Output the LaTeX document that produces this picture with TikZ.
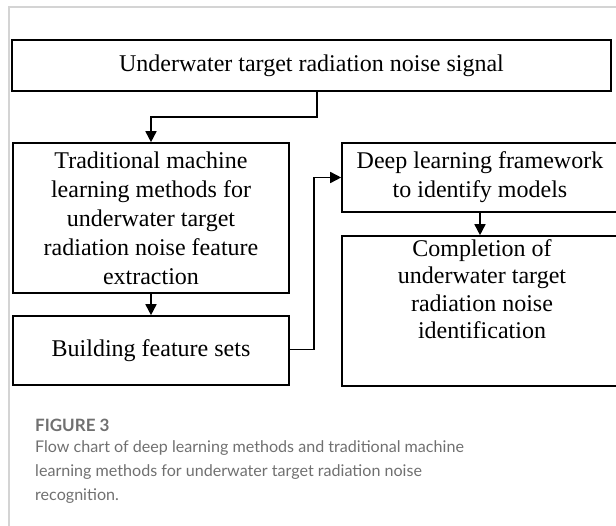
\documentclass[tikz,border=0pt]{standalone}
\usepackage{fontspec}
\setmainfont{Liberation Serif}
\newfontfamily\capfont{Lato}
\usetikzlibrary{arrows.meta}
\definecolor{framegray}{HTML}{D4D4D4}
\definecolor{capgray}{HTML}{707070}
\tikzset{
  stepbox/.style={draw=black, line width=1.6pt, inner sep=0pt, align=center,
    font=\fontsize{24}{29}\selectfont},
  flow/.style={line width=1.6pt, -{Triangle[length=11pt,width=11pt]}},
  boxtext/.style={align=center, inner sep=0pt, font=\fontsize{24}{27.5}\selectfont},
  captext/.style={anchor=west, inner sep=0pt, text=capgray, font=\capfont\fontsize{16.1}{24}\selectfont}
}
\begin{document}
\begin{tikzpicture}[x=1pt,y=-1pt]
  \useasboundingbox (0,0) rectangle (616,526);
  \clip (0,0) rectangle (616,526);
  % light frame around the figure
  \draw[framegray, line width=1.5pt] (9,526) -- (9,7) -- (616,7);

  % boxes
  \node[stepbox, minimum width=599pt, minimum height=51pt] (sig) at (311.5,65.5)
    {Underwater target radiation noise signal};
  \node[stepbox, minimum width=276pt, minimum height=150pt] (trad) at (151,218)
    {Traditional machine\\learning methods for\\underwater target\\radiation noise feature\\extraction};
  \node[stepbox, minimum width=276pt, minimum height=69pt] (feat) at (151,350.5)
    {Building feature sets};
  \node[stepbox, minimum width=276pt, minimum height=69pt] (deep) at (480,177.5)
    {Deep learning framework\\to identify models};
  \node[stepbox, minimum width=276pt, minimum height=150pt] (done) at (480,311) {};
  \node[boxtext] (donetext) at (482,289)
    {Completion of\\underwater target\\radiation noise\\identification};

  % connectors
  \coordinate (c1) at (317,117);
  \coordinate (c2) at (314,349.5);
  \draw[flow] (sig.south -| c1) -- (c1) -| (trad.north);
  \draw[flow] (trad.south) -- (feat.north);
  \draw[flow] (feat.east |- c2) -- (c2) |- (deep.west);
  \draw[flow] (deep.south) -- (done.north);

  % caption
  \node[captext, font=\capfont\bfseries\fontsize{17}{24}\selectfont] (fig) at (35,425) {FIGURE 3};
  \node[captext] (cap1) at (35,448.5) {Flow chart of deep learning methods and traditional machine};
  \node[captext] (cap2) at (35,472) {learning methods for underwater target radiation noise};
  \node[captext] (cap3) at (35,496) {recognition.};
\end{tikzpicture}
\end{document}
